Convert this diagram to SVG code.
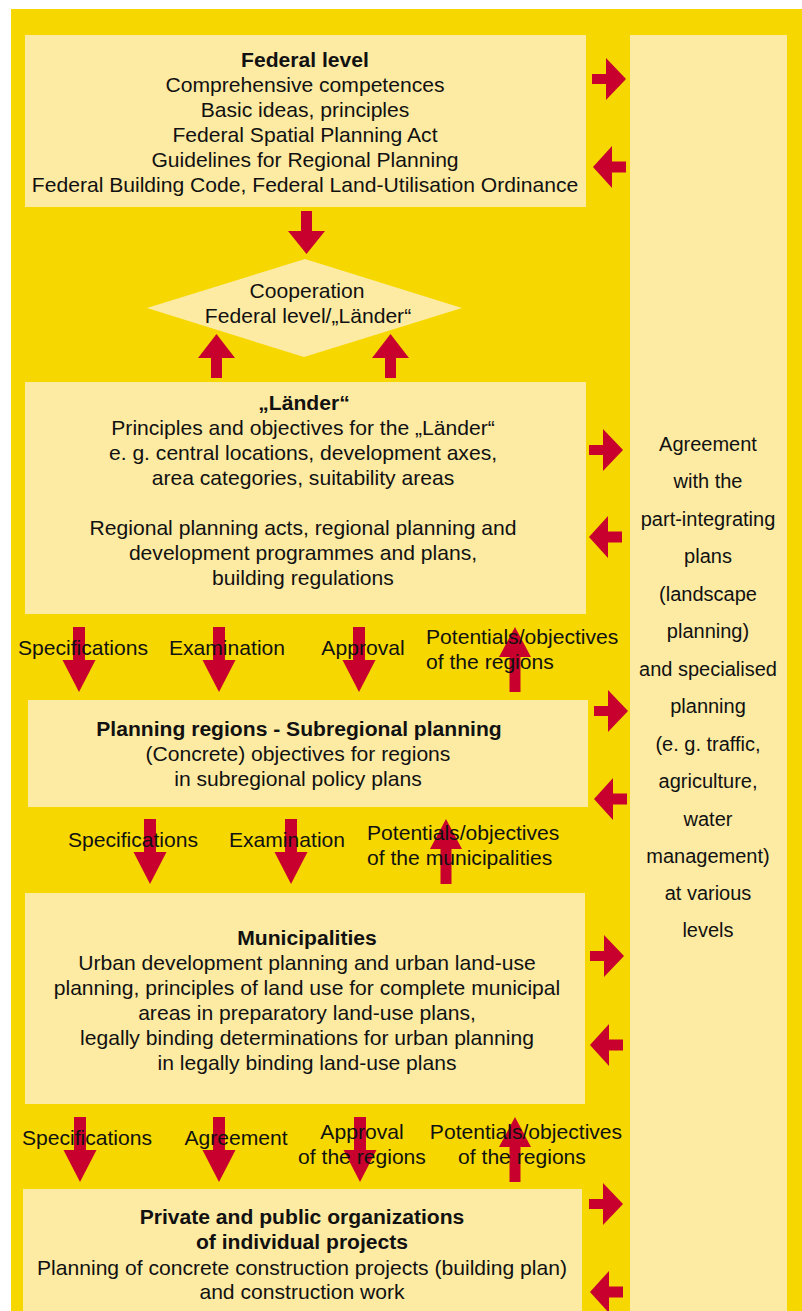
<svg xmlns="http://www.w3.org/2000/svg" width="802" height="1311" viewBox="0 0 802 1311">
  <defs>
    <style>
      .bg { fill: #F6D800; }
      .box { fill: #FDEBA3; }
      .arr { fill: #C8002D; }
      text { font-family: "Liberation Sans", Arial, sans-serif; font-size: 21.1px; fill: #111; }
      .c { text-anchor: middle; }
      .b { font-weight: bold; }
      .col { font-size: 20px; text-anchor: middle; }
    </style>
    <!-- vertical flow arrow, tip at bottom, origin at top centre of shaft -->
    <path id="down" d="M-6,0 H6 V33 H16.5 L0,65 L-16.5,33 H-6 Z"/>
    <!-- vertical flow arrow, tip at top, origin at tip -->
    <path id="up" d="M0,0 L16,30 H5.5 V65 H-5.5 V30 H-16 Z"/>
    <!-- side arrows towards / from the sectoral planning column -->
    <path id="right" d="M0,-5 H14 V-21 L34,0 L14,21 V5 H0 Z"/>
    <path id="left" d="M0,0 L19,-21 V-5.5 H33 V5.5 H19 V21 Z"/>
  </defs>

  <!-- backdrop -->
  <rect class="bg" x="11" y="9" width="791" height="1302"/>

  <!-- sectoral planning column -->
  <g id="sectoral">
    <rect class="box" x="630" y="35" width="157" height="1276"/>
    <text class="col" x="708" y="451">Agreement</text>
    <text class="col" x="708" y="488">with the</text>
    <text class="col" x="708" y="526">part-integrating</text>
    <text class="col" x="708" y="563">plans</text>
    <text class="col" x="708" y="601">(landscape</text>
    <text class="col" x="708" y="638">planning)</text>
    <text class="col" x="708" y="676">and specialised</text>
    <text class="col" x="708" y="713">planning</text>
    <text class="col" x="708" y="751">(e. g. traffic,</text>
    <text class="col" x="708" y="788">agriculture,</text>
    <text class="col" x="708" y="826">water</text>
    <text class="col" x="708" y="863">management)</text>
    <text class="col" x="708" y="900">at various</text>
    <text class="col" x="708" y="937">levels</text>
  </g>

  <g id="federal">
    <rect class="box" x="25" y="35" width="561" height="172"/>
    <text class="c b" x="305" y="67">Federal level</text>
    <text class="c" x="305" y="92">Comprehensive competences</text>
    <text class="c" x="305" y="117">Basic ideas, principles</text>
    <text class="c" x="305" y="142">Federal Spatial Planning Act</text>
    <text class="c" x="305" y="167">Guidelines for Regional Planning</text>
    <text class="c" x="305" y="192">Federal Building Code, Federal Land-Utilisation Ordinance</text>
  </g>

  <g id="cooperation">
    <polygon class="box" points="305,259 462,308 304,357 147,308"/>
    <text class="c" x="307" y="298">Cooperation</text>
    <text class="c" x="308" y="323">Federal level/„Länder“</text>
  </g>

  <g id="laender">
    <rect class="box" x="25" y="382" width="561" height="232"/>
    <text class="c b" x="304" y="410">„Länder“</text>
    <text class="c" x="303" y="435">Principles and objectives for the „Länder“</text>
    <text class="c" x="303" y="460">e. g. central locations, development axes,</text>
    <text class="c" x="303" y="485">area categories, suitability areas</text>
    <text class="c" x="303" y="535">Regional planning acts, regional planning and</text>
    <text class="c" x="303" y="560">development programmes and plans,</text>
    <text class="c" x="303" y="585">building regulations</text>
  </g>

  <g id="regions">
    <rect class="box" x="28" y="700" width="560" height="107"/>
    <text class="c b" x="299" y="736">Planning regions - Subregional planning</text>
    <text class="c" x="298" y="761">(Concrete) objectives for regions</text>
    <text class="c" x="298" y="786">in subregional policy plans</text>
  </g>

  <g id="municipalities">
    <rect class="box" x="25" y="893" width="560" height="211"/>
    <text class="c b" x="307" y="945">Municipalities</text>
    <text class="c" x="307" y="970">Urban development planning and urban land-use</text>
    <text class="c" x="307" y="995">planning, principles of land use for complete municipal</text>
    <text class="c" x="307" y="1020">areas in preparatory land-use plans,</text>
    <text class="c" x="307" y="1045">legally binding determinations for urban planning</text>
    <text class="c" x="307" y="1070">in legally binding land-use plans</text>
  </g>

  <g id="projects">
    <rect class="box" x="23" y="1189" width="559" height="122"/>
    <text class="c b" x="302" y="1224">Private and public organizations</text>
    <text class="c b" x="302" y="1249">of individual projects</text>
    <text class="c" x="302" y="1275">Planning of concrete construction projects (building plan)</text>
    <text class="c" x="302" y="1299">and construction work</text>
  </g>

  <g id="connectors" class="arr">
    <!-- federal level to cooperation, and back up from the Länder -->
    <path d="M301,211 H312 V231 H325 L306.5,254 L288,231 H301 Z"/>
    <path d="M216.5,334 L235,358 H222 V378 H211 V358 H198 Z"/>
    <path d="M390.5,334 L409,358 H396 V378 H385 V358 H372 Z"/>

    <!-- Länder to planning regions -->
    <use href="#down" x="79" y="627"/>
    <use href="#down" x="219" y="627"/>
    <use href="#down" x="359" y="627"/>
    <use href="#up" x="515" y="627"/>

    <!-- planning regions to municipalities -->
    <use href="#down" x="150" y="819"/>
    <use href="#down" x="291" y="819"/>
    <use href="#up" x="446" y="819"/>

    <!-- municipalities to projects -->
    <use href="#down" x="80" y="1117"/>
    <use href="#down" x="219" y="1117"/>
    <use href="#down" x="360" y="1117"/>
    <use href="#up" x="515" y="1117"/>

    <!-- exchanges with the sectoral planning column -->
    <use href="#right" x="592" y="79"/>
    <use href="#left" x="593" y="167"/>
    <use href="#right" x="589" y="450"/>
    <use href="#left" x="589" y="537"/>
    <use href="#right" x="594" y="711"/>
    <use href="#left" x="594" y="799"/>
    <use href="#right" x="590" y="956"/>
    <use href="#left" x="590" y="1045"/>
    <use href="#right" x="589" y="1204"/>
    <use href="#left" x="590" y="1292"/>
  </g>

  <g id="labels">
    <text class="c" x="83" y="655">Specifications</text>
    <text class="c" x="227" y="655">Examination</text>
    <text class="c" x="363" y="655">Approval</text>
    <text x="426" y="644">Potentials/objectives</text>
    <text x="426" y="669">of the regions</text>

    <text class="c" x="133" y="847">Specifications</text>
    <text class="c" x="287" y="847">Examination</text>
    <text x="367" y="840">Potentials/objectives</text>
    <text x="367" y="865">of the municipalities</text>

    <text class="c" x="87" y="1145">Specifications</text>
    <text class="c" x="236" y="1145">Agreement</text>
    <text class="c" x="362" y="1139">Approval</text>
    <text class="c" x="362" y="1164">of the regions</text>
    <text class="c" x="526" y="1139">Potentials/objectives</text>
    <text class="c" x="522" y="1164">of the regions</text>
  </g>
</svg>
